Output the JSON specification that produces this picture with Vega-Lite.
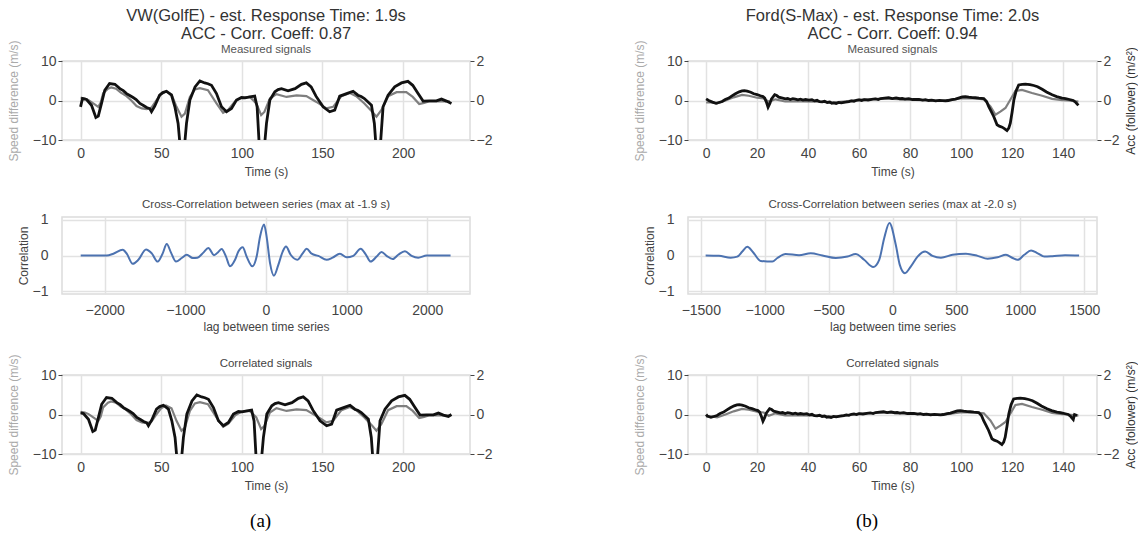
{
"$schema": "https://vega.github.io/schema/vega-lite/v6.json",
"padding": {"left": 6, "top": 7, "right": 0, "bottom": 0},
"background": "white",
"datasets": {
"vwSpeed": [{"t":0,"v":0.7},{"t":2.7,"v":0.5},{"t":5,"v":0.1},{"t":7.9,"v":-0.75},{"t":11,"v":-1.6},{"t":12.5,"v":-0.5},{"t":14,"v":1.8},{"t":17,"v":3.0},{"t":19,"v":3.3},{"t":22,"v":3.0},{"t":25,"v":2.0},{"t":28.5,"v":1.1},{"t":31.5,"v":0},{"t":34.7,"v":-1.4},{"t":38,"v":-2.0},{"t":41,"v":-2.2},{"t":44,"v":-1.8},{"t":47,"v":0},{"t":50,"v":1.6},{"t":53,"v":2.3},{"t":56.4,"v":1.6},{"t":59.5,"v":-1.6},{"t":62.6,"v":-4.1},{"t":64.7,"v":-3.3},{"t":67.8,"v":0.9},{"t":70.9,"v":2.8},{"t":74,"v":3.1},{"t":79,"v":2.6},{"t":84.3,"v":-0.75},{"t":88.4,"v":-3.1},{"t":91.5,"v":-2.4},{"t":95.7,"v":-0.3},{"t":99.8,"v":0.75},{"t":105,"v":0.9},{"t":109,"v":-0.75},{"t":112,"v":-3.7},{"t":114,"v":-2.9},{"t":117.4,"v":0.5},{"t":121.5,"v":1.6},{"t":127.7,"v":0.9},{"t":134,"v":1.3},{"t":140,"v":1.1},{"t":146,"v":-0.3},{"t":152.5,"v":-2.0},{"t":156.6,"v":-1.6},{"t":161.8,"v":1.1},{"t":167,"v":1.9},{"t":171,"v":1.1},{"t":176,"v":-0.75},{"t":181,"v":-2.9},{"t":183.5,"v":-4.1},{"t":186.6,"v":-2.4},{"t":190.7,"v":1.1},{"t":196,"v":2.1},{"t":202,"v":2.1},{"t":206,"v":0.9},{"t":210,"v":-0.9},{"t":213,"v":-0.6},{"t":216.5,"v":-0.2},{"t":222,"v":-0.2},{"t":229,"v":-0.2}],
"vwAcc": [{"t":0,"v":-0.32},{"t":1.2,"v":0.1},{"t":3.7,"v":0.05},{"t":6.8,"v":-0.24},{"t":9.5,"v":-0.86},{"t":11,"v":-0.79},{"t":13,"v":-0.15},{"t":15,"v":0.52},{"t":18,"v":0.86},{"t":21.3,"v":0.82},{"t":24.4,"v":0.6},{"t":26.5,"v":0.5},{"t":28.5,"v":0.35},{"t":30.5,"v":0.25},{"t":32.6,"v":0.15},{"t":34.5,"v":0.05},{"t":36.8,"v":-0.15},{"t":39,"v":-0.25},{"t":41,"v":-0.35},{"t":43,"v":-0.42},{"t":44,"v":-0.57},{"t":46,"v":-0.29},{"t":49,"v":0.27},{"t":51,"v":0.4},{"t":53.3,"v":0.47},{"t":56.4,"v":0.27},{"t":58.5,"v":-0.32},{"t":60.5,"v":-1.16},{"t":62.5,"v":-3.0},{"t":63.7,"v":-3.0},{"t":65.7,"v":-1.16},{"t":67.8,"v":0.02},{"t":71,"v":0.69},{"t":74,"v":0.99},{"t":77,"v":0.89},{"t":79,"v":0.85},{"t":81.2,"v":0.77},{"t":84.3,"v":0.35},{"t":87.4,"v":-0.32},{"t":90.5,"v":-0.57},{"t":93.6,"v":-0.4},{"t":96.7,"v":0.02},{"t":99.8,"v":0.15},{"t":102,"v":0.13},{"t":105,"v":0.18},{"t":108,"v":0.22},{"t":109.5,"v":-0.32},{"t":111.3,"v":-3.0},{"t":113.3,"v":-3.0},{"t":115.3,"v":-1.16},{"t":117.4,"v":0.02},{"t":120.5,"v":0.44},{"t":122.5,"v":0.55},{"t":124.6,"v":0.6},{"t":128.7,"v":0.49},{"t":131,"v":0.55},{"t":133,"v":0.6},{"t":137,"v":0.82},{"t":140,"v":0.89},{"t":143,"v":0.69},{"t":146,"v":0.22},{"t":150.4,"v":-0.32},{"t":154.5,"v":-0.57},{"t":157.6,"v":-0.49},{"t":160.7,"v":0.22},{"t":165,"v":0.35},{"t":169,"v":0.47},{"t":172,"v":0.27},{"t":174,"v":0.2},{"t":176,"v":0.1},{"t":180.4,"v":-0.24},{"t":182.2,"v":-1.16},{"t":183.8,"v":-3.0},{"t":185.3,"v":-3.0},{"t":187.6,"v":-0.32},{"t":190.7,"v":0.27},{"t":194.8,"v":0.69},{"t":199,"v":0.89},{"t":203,"v":0.97},{"t":206,"v":0.77},{"t":209.3,"v":0.35},{"t":212.4,"v":-0.03},{"t":216.5,"v":-0.02},{"t":220.7,"v":-0.02},{"t":223.8,"v":0.07},{"t":226.9,"v":-0.03},{"t":230,"v":-0.15}],
"vwAccC": [{"t":0,"v":0.08},{"t":1.8,"v":0.05},{"t":4.9,"v":-0.24},{"t":7.6,"v":-0.86},{"t":9.1,"v":-0.79},{"t":11.1,"v":-0.15},{"t":13.1,"v":0.52},{"t":16.1,"v":0.86},{"t":19.4,"v":0.82},{"t":22.5,"v":0.6},{"t":24.6,"v":0.5},{"t":26.6,"v":0.35},{"t":28.6,"v":0.25},{"t":30.7,"v":0.15},{"t":32.6,"v":0.05},{"t":34.9,"v":-0.15},{"t":37.1,"v":-0.25},{"t":39.1,"v":-0.35},{"t":41.1,"v":-0.42},{"t":42.1,"v":-0.57},{"t":44.1,"v":-0.29},{"t":47.1,"v":0.27},{"t":49.1,"v":0.4},{"t":51.4,"v":0.47},{"t":54.5,"v":0.27},{"t":56.6,"v":-0.32},{"t":58.6,"v":-1.16},{"t":60.6,"v":-3.0},{"t":61.8,"v":-3.0},{"t":63.8,"v":-1.16},{"t":65.9,"v":0.02},{"t":69.1,"v":0.69},{"t":72.1,"v":0.99},{"t":75.1,"v":0.89},{"t":77.1,"v":0.85},{"t":79.3,"v":0.77},{"t":82.4,"v":0.35},{"t":85.5,"v":-0.32},{"t":88.6,"v":-0.57},{"t":91.7,"v":-0.4},{"t":94.8,"v":0.02},{"t":97.9,"v":0.15},{"t":100.1,"v":0.13},{"t":103.1,"v":0.18},{"t":106.1,"v":0.22},{"t":107.6,"v":-0.32},{"t":109.4,"v":-3.0},{"t":111.4,"v":-3.0},{"t":113.4,"v":-1.16},{"t":115.5,"v":0.02},{"t":118.6,"v":0.44},{"t":120.6,"v":0.55},{"t":122.7,"v":0.6},{"t":126.8,"v":0.49},{"t":129.1,"v":0.55},{"t":131.1,"v":0.6},{"t":135.1,"v":0.82},{"t":138.1,"v":0.89},{"t":141.1,"v":0.69},{"t":144.1,"v":0.22},{"t":148.5,"v":-0.32},{"t":152.6,"v":-0.57},{"t":155.7,"v":-0.49},{"t":158.8,"v":0.22},{"t":163.1,"v":0.35},{"t":167.1,"v":0.47},{"t":170.1,"v":0.27},{"t":172.1,"v":0.2},{"t":174.1,"v":0.1},{"t":178.5,"v":-0.24},{"t":180.3,"v":-1.16},{"t":181.9,"v":-3.0},{"t":183.4,"v":-3.0},{"t":185.7,"v":-0.32},{"t":188.8,"v":0.27},{"t":192.9,"v":0.69},{"t":197.1,"v":0.89},{"t":201.1,"v":0.97},{"t":204.1,"v":0.77},{"t":207.4,"v":0.35},{"t":210.5,"v":-0.03},{"t":214.6,"v":-0.02},{"t":218.8,"v":-0.02},{"t":221.9,"v":0.07},{"t":225,"v":-0.03},{"t":228.1,"v":-0.1},{"t":230,"v":0.0}],
"vwXc": [{"lag":-2298,"c":0},{"lag":-1975,"c":0},{"lag":-1893,"c":0.05},{"lag":-1777,"c":0.16},{"lag":-1727,"c":0.05},{"lag":-1653,"c":-0.23},{"lag":-1583,"c":-0.12},{"lag":-1488,"c":0.17},{"lag":-1417,"c":0.06},{"lag":-1343,"c":-0.17},{"lag":-1281,"c":0.06},{"lag":-1231,"c":0.32},{"lag":-1178,"c":0.08},{"lag":-1116,"c":-0.17},{"lag":-1045,"c":-0.07},{"lag":-983,"c":0.02},{"lag":-909,"c":-0.07},{"lag":-851,"c":-0.06},{"lag":-777,"c":0.08},{"lag":-715,"c":0.21},{"lag":-645,"c":0.01},{"lag":-591,"c":0.1},{"lag":-550,"c":0.18},{"lag":-496,"c":-0.03},{"lag":-446,"c":-0.3},{"lag":-384,"c":-0.12},{"lag":-343,"c":0.11},{"lag":-289,"c":0.23},{"lag":-240,"c":-0.03},{"lag":-169,"c":-0.3},{"lag":-116,"c":-0.03},{"lag":-74,"c":0.52},{"lag":-25,"c":0.86},{"lag":8,"c":0.52},{"lag":50,"c":-0.21},{"lag":99,"c":-0.56},{"lag":153,"c":-0.26},{"lag":207,"c":0.11},{"lag":248,"c":0.25},{"lag":306,"c":0.02},{"lag":388,"c":-0.12},{"lag":455,"c":0.06},{"lag":504,"c":0.19},{"lag":566,"c":0.05},{"lag":649,"c":-0.01},{"lag":752,"c":-0.12},{"lag":826,"c":-0.06},{"lag":917,"c":0.05},{"lag":1000,"c":-0.05},{"lag":1083,"c":-0.01},{"lag":1174,"c":0.19},{"lag":1240,"c":0.02},{"lag":1298,"c":-0.17},{"lag":1372,"c":-0.03},{"lag":1434,"c":0.1},{"lag":1496,"c":-0.01},{"lag":1570,"c":-0.1},{"lag":1640,"c":0.02},{"lag":1723,"c":0.12},{"lag":1806,"c":-0.01},{"lag":1888,"c":-0.06},{"lag":1992,"c":0},{"lag":2289,"c":0}],
"fdSpeed": [{"t":0,"v":-0.5},{"t":2.4,"v":-0.5},{"t":4.3,"v":-0.7},{"t":7.6,"v":0},{"t":10.8,"v":0.8},{"t":14.1,"v":1.4},{"t":16.7,"v":1.2},{"t":20,"v":0.7},{"t":22.6,"v":0.5},{"t":24.6,"v":-0.3},{"t":27.2,"v":0.3},{"t":31,"v":-0.25},{"t":37.6,"v":-0.2},{"t":44,"v":-0.3},{"t":49.4,"v":-0.5},{"t":55,"v":-0.2},{"t":60,"v":0.2},{"t":69,"v":0.5},{"t":79.5,"v":0.2},{"t":92.5,"v":-0.1},{"t":100.4,"v":0.6},{"t":105.6,"v":0.5},{"t":108.9,"v":0.3},{"t":111.5,"v":-1.5},{"t":113.5,"v":-3.6},{"t":115.4,"v":-2.8},{"t":117.4,"v":-1.9},{"t":119.3,"v":0.2},{"t":121.3,"v":2.4},{"t":123.9,"v":2.7},{"t":127.8,"v":1.9},{"t":131.8,"v":1.2},{"t":135.7,"v":0.4},{"t":139.6,"v":0.1},{"t":142,"v":0.0},{"t":146,"v":-0.3}],
"fdAcc": [{"t":0,"v":0.08},{"t":1,"v":0},{"t":2.5,"v":-0.08},{"t":3.9,"v":-0.14},{"t":5,"v":-0.1},{"t":6.3,"v":-0.05},{"t":7.5,"v":0.05},{"t":8.9,"v":0.12},{"t":10,"v":0.22},{"t":11.5,"v":0.34},{"t":13,"v":0.44},{"t":14.1,"v":0.49},{"t":15,"v":0.5},{"t":16.1,"v":0.47},{"t":17.5,"v":0.42},{"t":18.7,"v":0.34},{"t":20,"v":0.3},{"t":21.3,"v":0.24},{"t":22.3,"v":0.2},{"t":23,"v":0.12},{"t":23.7,"v":-0.1},{"t":24.3,"v":-0.34},{"t":25,"v":-0.15},{"t":25.6,"v":0.07},{"t":26.9,"v":0.29},{"t":27.7,"v":0.25},{"t":28.5,"v":0.17},{"t":30,"v":0.12},{"t":31.1,"v":0.08},{"t":32,"v":0.1},{"t":33,"v":0.05},{"t":34,"v":0.09},{"t":35,"v":0.07},{"t":36,"v":0.03},{"t":37,"v":0.07},{"t":38,"v":0.02},{"t":39,"v":0.05},{"t":40.3,"v":0.02},{"t":41.5,"v":0.04},{"t":42.5,"v":-0.02},{"t":43.5,"v":0.01},{"t":44.5,"v":-0.06},{"t":45.5,"v":-0.07},{"t":46.5,"v":-0.04},{"t":47.5,"v":-0.1},{"t":48.5,"v":-0.08},{"t":49.3,"v":-0.14},{"t":50,"v":-0.12},{"t":51,"v":-0.15},{"t":52,"v":-0.1},{"t":53,"v":-0.12},{"t":54.6,"v":-0.08},{"t":56,"v":-0.06},{"t":57,"v":-0.02},{"t":58,"v":-0.04},{"t":59,"v":0.01},{"t":60,"v":0.03},{"t":61,"v":0.0},{"t":62,"v":0.04},{"t":63.5,"v":0.02},{"t":65,"v":0.06},{"t":66.4,"v":0.08},{"t":67.5,"v":0.05},{"t":68.5,"v":0.1},{"t":70,"v":0.12},{"t":71.6,"v":0.14},{"t":73,"v":0.1},{"t":74.5,"v":0.13},{"t":76,"v":0.09},{"t":76.9,"v":0.1},{"t":78,"v":0.07},{"t":79.5,"v":0.09},{"t":81,"v":0.05},{"t":82,"v":0.05},{"t":83.5,"v":0.06},{"t":85,"v":0.02},{"t":86,"v":0.04},{"t":87.3,"v":0},{"t":88.5,"v":0.02},{"t":90,"v":-0.02},{"t":91.5,"v":0.01},{"t":93.9,"v":-0.02},{"t":95,"v":0.0},{"t":96.5,"v":0.04},{"t":97.8,"v":0.07},{"t":99,"v":0.12},{"t":100.5,"v":0.18},{"t":101.7,"v":0.2},{"t":103,"v":0.17},{"t":104.5,"v":0.15},{"t":105.6,"v":0.14},{"t":107,"v":0.12},{"t":108.9,"v":0.1},{"t":110,"v":-0.05},{"t":110.8,"v":-0.3},{"t":111.8,"v":-0.55},{"t":112.8,"v":-0.81},{"t":114.1,"v":-1.23},{"t":115,"v":-1.3},{"t":116.1,"v":-1.35},{"t":117,"v":-1.42},{"t":118,"v":-1.52},{"t":118.7,"v":-1.4},{"t":119.3,"v":-1.15},{"t":120,"v":-0.6},{"t":120.7,"v":0.03},{"t":121.6,"v":0.5},{"t":122.6,"v":0.79},{"t":124,"v":0.82},{"t":125.2,"v":0.83},{"t":127,"v":0.8},{"t":128.5,"v":0.76},{"t":130,"v":0.7},{"t":131.8,"v":0.57},{"t":133.5,"v":0.43},{"t":135.7,"v":0.29},{"t":137.5,"v":0.2},{"t":139.6,"v":0.12},{"t":141,"v":0.1},{"t":142.5,"v":0.05},{"t":144,"v":0.0},{"t":145,"v":-0.1},{"t":146,"v":-0.25}],
"fdAccC": [{"t":0,"v":0.0},{"t":0.5,"v":-0.08},{"t":1.9,"v":-0.14},{"t":3,"v":-0.1},{"t":4.3,"v":-0.05},{"t":5.5,"v":0.05},{"t":6.9,"v":0.12},{"t":8,"v":0.22},{"t":9.5,"v":0.34},{"t":11,"v":0.44},{"t":12.1,"v":0.49},{"t":13,"v":0.5},{"t":14.1,"v":0.47},{"t":15.5,"v":0.42},{"t":16.7,"v":0.34},{"t":18,"v":0.3},{"t":19.3,"v":0.24},{"t":20.3,"v":0.2},{"t":21,"v":0.12},{"t":21.7,"v":-0.1},{"t":22.3,"v":-0.34},{"t":23,"v":-0.15},{"t":23.6,"v":0.07},{"t":24.9,"v":0.29},{"t":25.7,"v":0.25},{"t":26.5,"v":0.17},{"t":28,"v":0.12},{"t":29.1,"v":0.08},{"t":30,"v":0.1},{"t":31,"v":0.05},{"t":32,"v":0.09},{"t":33,"v":0.07},{"t":34,"v":0.03},{"t":35,"v":0.07},{"t":36,"v":0.02},{"t":37,"v":0.05},{"t":38.3,"v":0.02},{"t":39.5,"v":0.04},{"t":40.5,"v":-0.02},{"t":41.5,"v":0.01},{"t":42.5,"v":-0.06},{"t":43.5,"v":-0.07},{"t":44.5,"v":-0.04},{"t":45.5,"v":-0.1},{"t":46.5,"v":-0.08},{"t":47.3,"v":-0.14},{"t":48,"v":-0.12},{"t":49,"v":-0.15},{"t":50,"v":-0.1},{"t":51,"v":-0.12},{"t":52.6,"v":-0.08},{"t":54,"v":-0.06},{"t":55,"v":-0.02},{"t":56,"v":-0.04},{"t":57,"v":0.01},{"t":58,"v":0.03},{"t":59,"v":0.0},{"t":60,"v":0.04},{"t":61.5,"v":0.02},{"t":63,"v":0.06},{"t":64.4,"v":0.08},{"t":65.5,"v":0.05},{"t":66.5,"v":0.1},{"t":68,"v":0.12},{"t":69.6,"v":0.14},{"t":71,"v":0.1},{"t":72.5,"v":0.13},{"t":74,"v":0.09},{"t":74.9,"v":0.1},{"t":76,"v":0.07},{"t":77.5,"v":0.09},{"t":79,"v":0.05},{"t":80,"v":0.05},{"t":81.5,"v":0.06},{"t":83,"v":0.02},{"t":84,"v":0.04},{"t":85.3,"v":0},{"t":86.5,"v":0.02},{"t":88,"v":-0.02},{"t":89.5,"v":0.01},{"t":91.9,"v":-0.02},{"t":93,"v":0.0},{"t":94.5,"v":0.04},{"t":95.8,"v":0.07},{"t":97,"v":0.12},{"t":98.5,"v":0.18},{"t":99.7,"v":0.2},{"t":101,"v":0.17},{"t":102.5,"v":0.15},{"t":103.6,"v":0.14},{"t":105,"v":0.12},{"t":106.9,"v":0.1},{"t":108,"v":-0.05},{"t":108.8,"v":-0.3},{"t":109.8,"v":-0.55},{"t":110.8,"v":-0.81},{"t":112.1,"v":-1.23},{"t":113,"v":-1.3},{"t":114.1,"v":-1.35},{"t":115,"v":-1.42},{"t":116,"v":-1.52},{"t":116.7,"v":-1.4},{"t":117.3,"v":-1.15},{"t":118,"v":-0.6},{"t":118.7,"v":0.03},{"t":119.6,"v":0.5},{"t":120.6,"v":0.79},{"t":122,"v":0.82},{"t":123.2,"v":0.83},{"t":125,"v":0.8},{"t":126.5,"v":0.76},{"t":128,"v":0.7},{"t":129.8,"v":0.57},{"t":131.5,"v":0.43},{"t":133.7,"v":0.29},{"t":135.5,"v":0.2},{"t":137.6,"v":0.12},{"t":139,"v":0.1},{"t":140.5,"v":0.05},{"t":142,"v":0.0},{"t":143,"v":-0.1},{"t":144,"v":-0.25},{"t":144.5,"v":0.0},{"t":145.5,"v":-0.05}],
"fdXc": [{"lag":-1462,"c":0},{"lag":-1358,"c":-0.01},{"lag":-1266,"c":-0.06},{"lag":-1214,"c":-0.03},{"lag":-1175,"c":0.11},{"lag":-1136,"c":0.24},{"lag":-1091,"c":0.09},{"lag":-1031,"c":-0.15},{"lag":-940,"c":-0.17},{"lag":-901,"c":-0.07},{"lag":-836,"c":0.04},{"lag":-731,"c":0.01},{"lag":-640,"c":0.06},{"lag":-548,"c":0},{"lag":-444,"c":-0.07},{"lag":-352,"c":-0.03},{"lag":-287,"c":0.04},{"lag":-222,"c":-0.12},{"lag":-151,"c":-0.32},{"lag":-104,"c":-0.12},{"lag":-65,"c":0.48},{"lag":-24,"c":0.9},{"lag":26,"c":0.29},{"lag":57,"c":-0.26},{"lag":97,"c":-0.49},{"lag":144,"c":-0.3},{"lag":196,"c":-0.03},{"lag":256,"c":0.11},{"lag":313,"c":-0.01},{"lag":379,"c":-0.06},{"lag":470,"c":0.02},{"lag":574,"c":0.05},{"lag":666,"c":-0.01},{"lag":744,"c":-0.09},{"lag":822,"c":-0.05},{"lag":888,"c":0.02},{"lag":940,"c":-0.07},{"lag":979,"c":-0.12},{"lag":1031,"c":0.02},{"lag":1084,"c":0.14},{"lag":1136,"c":0.06},{"lag":1188,"c":-0.03},{"lag":1250,"c":-0.02},{"lag":1350,"c":0.01},{"lag":1460,"c":0}]
},
"hconcat": [
{
"spacing": 20,
"title": {"text": "(a)", "orient": "bottom", "anchor": "middle", "font": "Liberation Serif", "fontSize": 19, "fontWeight": "normal", "color": "#000", "offset": 20, "dx": 11},
"vconcat": [
{
"width": 408, "height": 79,
"title": {"text": ["VW(GolfE) - est. Response Time: 1.9s", "ACC - Corr. Coeff: 0.87"], "subtitle": "Measured signals", "frame": "group", "anchor": "middle", "fontSize": 16.5, "lineHeight": 18, "fontWeight": "normal", "color": "#333", "subtitleFontSize": 11.5, "subtitleColor": "#555", "subtitlePadding": 2, "offset": -16},
"layer": [
{"data": {"name": "vwSpeed"}, "mark": {"type": "line", "color": "#7f7f7f", "strokeWidth": 2.2, "clip": true},
 "encoding": {"x": {"field": "t", "type": "quantitative", "scale": {"domain": [-11.5, 241.5], "nice": false, "zero": false}, "axis": {"values": [0, 50, 100, 150, 200], "title": "Time (s)", "titlePadding": 6}},
  "y": {"field": "v", "type": "quantitative", "scale": {"domain": [-10, 10], "nice": false}, "axis": {"values": [-10, 0, 10], "title": "Speed difference (m/s)", "titleColor": "#aaaaaa", "ticks": true, "tickSize": 4, "tickColor": "#444", "labelPadding": 2, "titlePadding": 12}}}},
{"data": {"name": "vwAcc"}, "mark": {"type": "line", "color": "#111", "strokeWidth": 2.8, "clip": true},
 "encoding": {"x": {"field": "t", "type": "quantitative"},
  "y": {"field": "v", "type": "quantitative", "scale": {"domain": [-2, 2], "nice": false}, "axis": {"orient": "right", "values": [-2, 0, 2], "title": null, "grid": false, "ticks": true, "tickSize": 4, "tickColor": "#444", "labelPadding": 2}}}}
],
"resolve": {"scale": {"y": "independent"}}
},
{
"width": 408, "height": 77,
"title": {"text": "Cross-Correlation between series (max at -1.9 s)", "frame": "group", "anchor": "middle", "fontSize": 11.5, "fontWeight": "normal", "color": "#444", "offset": 2},
"data": {"name": "vwXc"},
"mark": {"type": "line", "color": "#4c72b0", "strokeWidth": 2, "interpolate": "monotone"},
"encoding": {"x": {"field": "lag", "type": "quantitative", "scale": {"domain": [-2530, 2530], "nice": false, "zero": false}, "axis": {"values": [-2000, -1000, 0, 1000, 2000], "format": "d", "title": "lag between time series", "labelPadding": 9}},
 "y": {"field": "c", "type": "quantitative", "scale": {"domain": [-1.07, 1.07], "nice": false}, "axis": {"values": [-1, 0, 1], "title": "Correlation", "labelPadding": 14, "titlePadding": 2}}}
},
{
"width": 408, "height": 79,
"title": {"text": "Correlated signals", "frame": "group", "anchor": "middle", "fontSize": 11.5, "fontWeight": "normal", "color": "#444", "offset": -16},
"layer": [
{"data": {"name": "vwSpeed"}, "mark": {"type": "line", "color": "#7f7f7f", "strokeWidth": 2.2, "clip": true},
 "encoding": {"x": {"field": "t", "type": "quantitative", "scale": {"domain": [-11.5, 241.5], "nice": false, "zero": false}, "axis": {"values": [0, 50, 100, 150, 200], "title": "Time (s)", "titlePadding": 6}},
  "y": {"field": "v", "type": "quantitative", "scale": {"domain": [-10, 10], "nice": false}, "axis": {"values": [-10, 0, 10], "title": "Speed difference (m/s)", "titleColor": "#aaaaaa", "ticks": true, "tickSize": 4, "tickColor": "#444", "labelPadding": 2, "titlePadding": 12}}}},
{"data": {"name": "vwAccC"}, "mark": {"type": "line", "color": "#111", "strokeWidth": 2.8, "clip": true},
 "encoding": {"x": {"field": "t", "type": "quantitative"},
  "y": {"field": "v", "type": "quantitative", "scale": {"domain": [-2, 2], "nice": false}, "axis": {"orient": "right", "values": [-2, 0, 2], "title": null, "grid": false, "ticks": true, "tickSize": 4, "tickColor": "#444", "labelPadding": 2}}}}
],
"resolve": {"scale": {"y": "independent"}}
}
]
},
{
"spacing": 20,
"title": {"text": "(b)", "orient": "bottom", "anchor": "middle", "font": "Liberation Serif", "fontSize": 19, "fontWeight": "normal", "color": "#000", "offset": 20, "dx": -18},
"vconcat": [
{
"width": 409, "height": 79,
"title": {"text": ["Ford(S-Max) - est. Response Time: 2.0s", "ACC - Corr. Coeff: 0.94"], "subtitle": "Measured signals", "frame": "group", "anchor": "middle", "fontSize": 16.5, "lineHeight": 18, "fontWeight": "normal", "color": "#333", "subtitleFontSize": 11.5, "subtitleColor": "#555", "subtitlePadding": 2, "offset": -16},
"layer": [
{"data": {"name": "fdSpeed"}, "mark": {"type": "line", "color": "#7f7f7f", "strokeWidth": 2.2, "clip": true},
 "encoding": {"x": {"field": "t", "type": "quantitative", "scale": {"domain": [-7.1, 153.3], "nice": false, "zero": false}, "axis": {"values": [0, 20, 40, 60, 80, 100, 120, 140], "title": "Time (s)", "titlePadding": 6}},
  "y": {"field": "v", "type": "quantitative", "scale": {"domain": [-10, 10], "nice": false}, "axis": {"values": [-10, 0, 10], "title": "Speed difference (m/s)", "titleColor": "#aaaaaa", "ticks": true, "tickSize": 4, "tickColor": "#444", "labelPadding": 2, "titlePadding": 12}}}},
{"data": {"name": "fdAcc"}, "mark": {"type": "line", "color": "#111", "strokeWidth": 2.8, "clip": true},
 "encoding": {"x": {"field": "t", "type": "quantitative"},
  "y": {"field": "v", "type": "quantitative", "scale": {"domain": [-2, 2], "nice": false}, "axis": {"orient": "right", "values": [-2, 0, 2], "title": "Acc (follower) (m/s²)", "titleColor": "#333", "titleAngle": 270, "titleBaseline": "top", "grid": false, "ticks": true, "tickSize": 4, "tickColor": "#444", "labelPadding": 2, "titlePadding": 7}}}}
],
"resolve": {"scale": {"y": "independent"}}
},
{
"width": 409, "height": 77,
"title": {"text": "Cross-Correlation between series (max at -2.0 s)", "frame": "group", "anchor": "middle", "fontSize": 11.5, "fontWeight": "normal", "color": "#444", "offset": 2},
"data": {"name": "fdXc"},
"mark": {"type": "line", "color": "#4c72b0", "strokeWidth": 2, "interpolate": "monotone"},
"encoding": {"x": {"field": "lag", "type": "quantitative", "scale": {"domain": [-1600, 1600], "nice": false, "zero": false}, "axis": {"values": [-1500, -1000, -500, 0, 500, 1000, 1500], "format": "d", "title": "lag between time series", "labelPadding": 9}},
 "y": {"field": "c", "type": "quantitative", "scale": {"domain": [-1.07, 1.07], "nice": false}, "axis": {"values": [-1, 0, 1], "title": "Correlation", "labelPadding": 14, "titlePadding": 2}}}
},
{
"width": 409, "height": 79,
"title": {"text": "Correlated signals", "frame": "group", "anchor": "middle", "fontSize": 11.5, "fontWeight": "normal", "color": "#444", "offset": -16},
"layer": [
{"data": {"name": "fdSpeed"}, "mark": {"type": "line", "color": "#7f7f7f", "strokeWidth": 2.2, "clip": true},
 "encoding": {"x": {"field": "t", "type": "quantitative", "scale": {"domain": [-7.1, 153.3], "nice": false, "zero": false}, "axis": {"values": [0, 20, 40, 60, 80, 100, 120, 140], "title": "Time (s)", "titlePadding": 6}},
  "y": {"field": "v", "type": "quantitative", "scale": {"domain": [-10, 10], "nice": false}, "axis": {"values": [-10, 0, 10], "title": "Speed difference (m/s)", "titleColor": "#aaaaaa", "ticks": true, "tickSize": 4, "tickColor": "#444", "labelPadding": 2, "titlePadding": 12}}}},
{"data": {"name": "fdAccC"}, "mark": {"type": "line", "color": "#111", "strokeWidth": 2.8, "clip": true},
 "encoding": {"x": {"field": "t", "type": "quantitative"},
  "y": {"field": "v", "type": "quantitative", "scale": {"domain": [-2, 2], "nice": false}, "axis": {"orient": "right", "values": [-2, 0, 2], "title": "Acc (follower) (m/s²)", "titleColor": "#333", "titleAngle": 270, "titleBaseline": "top", "grid": false, "ticks": true, "tickSize": 4, "tickColor": "#444", "labelPadding": 2, "titlePadding": 7}}}}
],
"resolve": {"scale": {"y": "independent"}}
}
]
}
],
"spacing": 139,
"config": {
"font": "Liberation Sans",
"view": {"stroke": "#dcdcdc", "strokeWidth": 1.5},
"axis": {"domain": false, "ticks": false, "grid": true, "gridColor": "#e2e2e2", "gridWidth": 1.5, "labelFontSize": 14, "labelColor": "#444", "titleFontSize": 12, "titleFontWeight": "normal", "titleColor": "#444", "labelPadding": 6, "titlePadding": 4},
"title": {"font": "Liberation Sans", "fontWeight": "normal"}
}
}
